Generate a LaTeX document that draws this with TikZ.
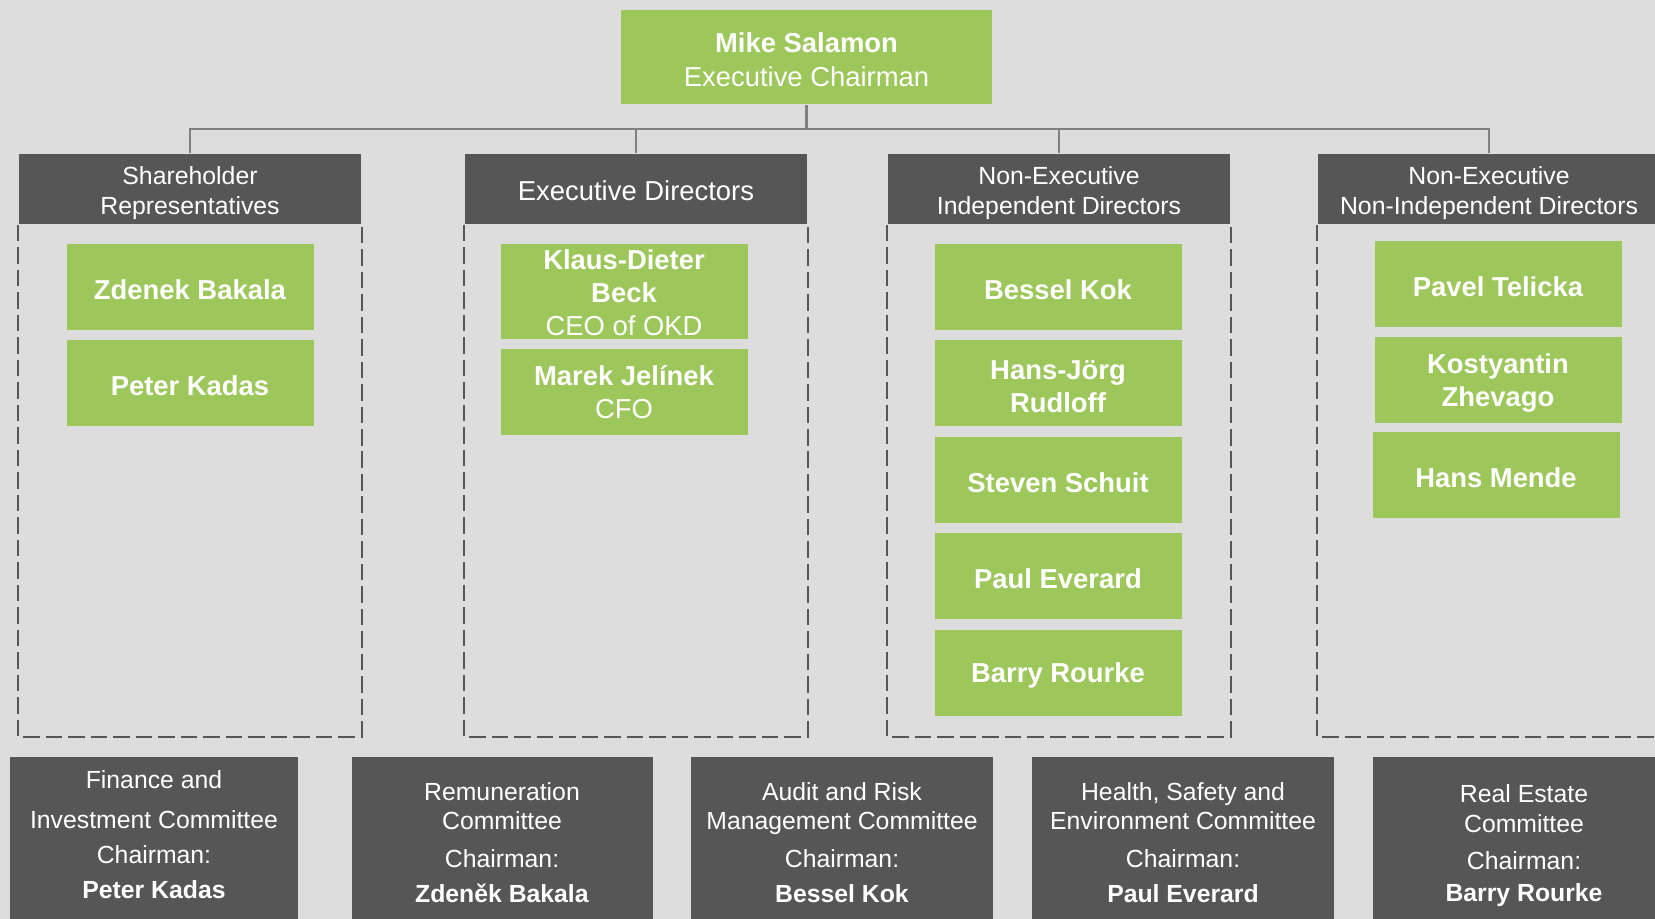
\documentclass[tikz,border=0pt]{standalone}
\usepackage{fontspec}
\setmainfont{Liberation Sans}
\usetikzlibrary{positioning}
\definecolor{bggray}{RGB}{221,221,221}
\definecolor{leafgreen}{RGB}{157,198,91}
\definecolor{slategray}{RGB}{86,86,86}
\definecolor{linkgray}{RGB}{128,128,128}
% empty first line, to lower the text in its box a little
\newcommand{\pushdown}[1][-2.3pt]{\mbox{}\\[#1]}

\begin{document}
\begin{tikzpicture}[node distance=0.09cm,
  chair/.style={fill=leafgreen, text=white, minimum width=3.71cm, minimum height=0.94cm,
    inner sep=0pt, align=center, font=\fontsize{7.8}{9.6}\selectfont},
  grouphead/.style={fill=slategray, text=white, minimum width=3.42cm, minimum height=0.70cm,
    inner sep=0pt, align=center, font=\fontsize{7.06}{8.7}\selectfont},
  person/.style={fill=leafgreen, text=white, minimum width=2.47cm, minimum height=0.86cm,
    inner sep=0pt, align=center, font=\fontsize{7.8}{9.4}\selectfont},
  committee/.style={fill=slategray, text=white, minimum height=1.72cm, anchor=north,
    inner sep=0pt, align=center, font=\fontsize{7.05}{8.4}\selectfont},
  memberframe/.style={draw=slategray, line width=0.57pt, dash pattern=on 4.7pt off 1.7pt},
  link/.style={draw=linkgray, line width=0.6pt}]
  \useasboundingbox (0,0) rectangle (16.55,9.19);
  \fill[bggray] (0,0) rectangle (16.55,9.19);
  \clip (0,0) rectangle (16.55,9.19);

  % chairman and the bus below him
  \node[chair] (chair) at (8.065,8.615)
    {\pushdown[-2.7pt]\textbf{Mike Salamon}\\Executive Chairman};
  \coordinate (bus) at (8.065,7.90);
  \coordinate (floor) at (0,1.82);

  % board groups
  \node[grouphead] (sr) at (1.90,7.30) {\pushdown[-1.2pt]Shareholder\\Representatives};
  \node[grouphead, font=\fontsize{7.8}{8.7}\selectfont] (ed) at (6.36,7.30)
    {\pushdown[-1.8pt]Executive Directors};
  \node[grouphead] (nei) at (10.59,7.30)
    {\pushdown[-1.2pt]Non-Executive\\Independent Directors};
  \node[grouphead] (neni) at (14.89,7.30)
    {\pushdown[-1.2pt]Non-Executive\\Non-Independent Directors};

  \draw[link] (chair.south) -- (bus);
  \foreach \g in {sr,ed,nei,neni}{
    \draw[link] (\g.north) |- (bus);
    \draw[memberframe] (\g.south west) -- (\g.south west |- floor)
      -- (\g.south east |- floor) -- (\g.south east);
  }

  % members
  \node[person] (bakala) at (1.90,6.32) {\pushdown\textbf{Zdenek Bakala}};
  \node[person, below=of bakala] (kadas) {\pushdown\textbf{Peter Kadas}};

  \node[person, minimum height=0.95cm] (beck) at (6.24,6.275)
    {\pushdown[-2.8pt]\textbf{Klaus-Dieter}\\\textbf{Beck}\\CEO of OKD};
  \node[person, below=of beck] (jelinek) {\textbf{Marek Jelínek}\\CFO};

  \node[person] (kok) at (10.58,6.32) {\pushdown\textbf{Bessel Kok}};
  \node[person, below=of kok] (rudloff) {\pushdown\textbf{Hans-Jörg}\\\textbf{Rudloff}};
  \node[person, below=of rudloff] (schuit) {\pushdown\textbf{Steven Schuit}};
  \node[person, below=of schuit] (everard) {\pushdown\textbf{Paul Everard}};
  \node[person, below=of everard] (rourke) {\pushdown[-1.9pt]\textbf{Barry Rourke}};

  \node[person] (telicka) at (14.98,6.35) {\pushdown\textbf{Pavel Telicka}};
  \node[person, below=of telicka] (zhevago) {\pushdown\textbf{Kostyantin}\\\textbf{Zhevago}};
  \node[person, below=0.075cm of zhevago, xshift=-0.02cm] (mende) {\pushdown\textbf{Hans Mende}};

  % committees
  \node[committee, minimum width=2.87cm] (finance) at (1.54,1.63)
    {Finance and\\[1mm]Investment Committee\\[0.5mm]Chairman:\\[0.6mm]\textbf{Peter Kadas}\\[-3.9pt]\mbox{}};
  \node[committee, minimum width=3.01cm] (remuneration) at (5.02,1.63)
    {Remuneration\\Committee\\[0.8mm]Chairman:\\[0.6mm]\textbf{Zdeněk Bakala}};
  \node[committee, minimum width=3.02cm] (audit) at (8.42,1.63)
    {Audit and Risk\\Management Committee\\[0.8mm]Chairman:\\[0.6mm]\textbf{Bessel Kok}};
  \node[committee, minimum width=3.02cm] (health) at (11.83,1.63)
    {Health, Safety and\\Environment Committee\\[0.8mm]Chairman:\\[0.6mm]\textbf{Paul Everard}};
  \node[committee, minimum width=3.02cm] (realestate) at (15.24,1.63)
    {\pushdown[-1.5pt]Real Estate\\Committee\\[0.7mm]Chairman:\\[0.3mm]\textbf{Barry Rourke}};
\end{tikzpicture}
\end{document}
